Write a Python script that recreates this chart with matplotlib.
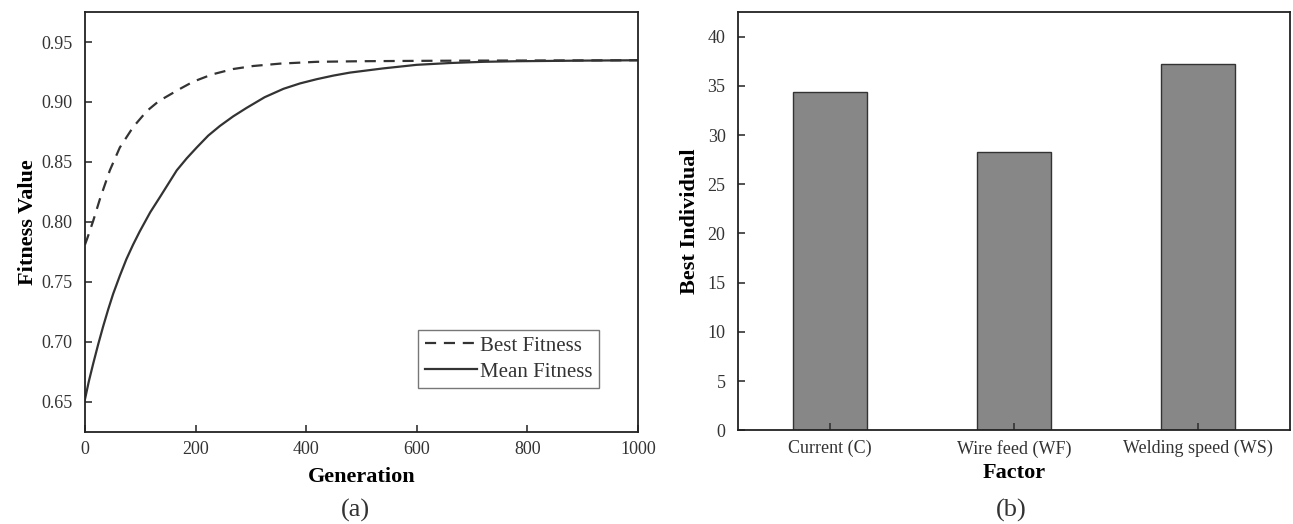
import numpy as np
import matplotlib.pyplot as plt

plt.rcParams['font.family'] = ['Liberation Serif', 'DejaVu Serif']

# (a) convergence curves
gen_best = [0, 4, 15, 27, 45, 63, 87, 112, 129, 142, 172, 196, 230, 268, 304, 353, 419, 500,
            600, 700, 800, 900, 1000]
best_fit = [0.781, 0.786, 0.801, 0.819, 0.843, 0.862, 0.879, 0.8925, 0.899, 0.903, 0.911, 0.917,
            0.923, 0.9275, 0.930, 0.932, 0.9335, 0.934, 0.9343, 0.9345, 0.9346, 0.9347, 0.9348]

gen_mean = [0, 7, 15, 24, 33, 42, 51, 63, 75, 87, 99, 118, 136, 151, 166, 184, 202, 223, 244,
            268, 292, 325, 359, 389, 419, 449, 479, 539, 600, 660, 720, 781, 900, 1000]
mean_fit = [0.652, 0.667, 0.682, 0.698, 0.713, 0.727, 0.740, 0.755, 0.769, 0.781, 0.792, 0.808,
            0.821, 0.832, 0.843, 0.853, 0.862, 0.872, 0.880, 0.888, 0.895, 0.904, 0.911, 0.9155,
            0.919, 0.922, 0.9245, 0.928, 0.931, 0.9325, 0.9335, 0.934, 0.9345, 0.9348]

# (b) best individual
factors = ['Current (C)', 'Wire feed (WF)', 'Welding speed (WS)']
best_ind = [34.4, 28.3, 37.2]

txt = '#333333'
fig = plt.figure(figsize=(12.93, 5.24), dpi=100)
ax1 = fig.add_axes([0.0657, 0.176, 0.4277, 0.801])
ax2 = fig.add_axes([0.5708, 0.179, 0.4269, 0.798])

ax1.plot(gen_best, best_fit, color=txt, lw=1.6, ls=(0, (5, 3.5)), label='Best Fitness')
ax1.plot(gen_mean, mean_fit, color=txt, lw=1.6, label='Mean Fitness')
ax1.set_xlim(0, 1000)
ax1.set_ylim(0.625, 0.975)
ax1.set_xticks([0, 200, 400, 600, 800, 1000])
ax1.set_yticks(np.arange(0.65, 0.951, 0.05))
ax1.set_yticklabels(['%.2f' % v for v in np.arange(0.65, 0.951, 0.05)])
ax1.set_xlabel('Generation', fontsize=16, fontweight='bold', color='black', labelpad=6)
ax1.set_ylabel('Fitness Value', fontsize=16, fontweight='bold', color='black', labelpad=2)
leg = ax1.legend(loc='lower right', bbox_to_anchor=(0.94, 0.09), fontsize=15, fancybox=False,
                 frameon=True, handlelength=2.5, handletextpad=0.15, borderpad=0.3,
                 borderaxespad=0.3, labelspacing=0.3)
leg.get_frame().set_edgecolor('#555555')
leg.get_frame().set_linewidth(1.0)
for t in leg.get_texts():
    t.set_color(txt)

x = np.arange(len(factors))
ax2.bar(x, best_ind, width=0.4, color='#878787', edgecolor='#333333', linewidth=1.0)
ax2.set_xlim(-0.5, 2.5)
ax2.set_ylim(0, 42.5)
ax2.set_xticks(x)
ax2.set_xticklabels(factors)
ax2.set_yticks(range(0, 41, 5))
ax2.set_xlabel('Factor', fontsize=16, fontweight='bold', color='black', labelpad=4)
ax2.set_ylabel('Best Individual', fontsize=16, fontweight='bold', color='black', labelpad=5)

for ax in (ax1, ax2):
    ax.tick_params(direction='in', labelsize=13, colors=txt, length=5, width=1.2)
    ax.tick_params(axis='x', pad=7)
    ax.tick_params(axis='y', pad=9)
    for s in ax.spines.values():
        s.set_linewidth(1.3)
        s.set_color('#222222')

fig.text(355 / 1293, 0.025, '(a)', fontsize=19, ha='center', va='center', color=txt)
fig.text(1011 / 1293, 0.025, '(b)', fontsize=19, ha='center', va='center', color=txt)

fig.savefig('out.png', dpi=100)
